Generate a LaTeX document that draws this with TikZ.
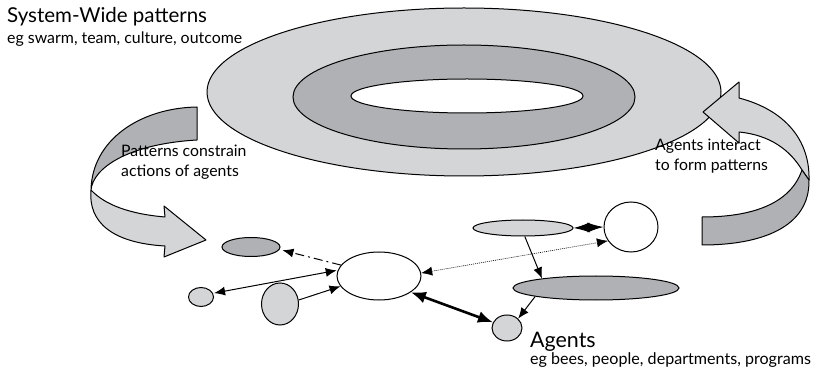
\documentclass[tikz,border=0pt]{standalone}
\usepackage{fontspec}
\setmainfont{Lato}
\usetikzlibrary{shapes.geometric,arrows.meta}
\definecolor{ringlight}{RGB}{212,213,215}
\definecolor{ringdark}{RGB}{176,177,180}
\begin{document}
\begin{tikzpicture}[x=1pt,y=-1pt,
  outline/.style={draw=black,line width=1pt},
  agent/.style={ellipse,outline,inner sep=0pt},
  link/.style={line width=1pt,-{Latex[length=11pt,width=9pt]}},
  biglink/.style={line width=1pt,{Latex[length=11pt,width=9pt]}-{Latex[length=11pt,width=9pt]}},
  heavylink/.style={line width=2.6pt,{Latex[length=15pt,width=12pt]}-{Latex[length=15pt,width=12pt]}},
  title/.style={anchor=base west,inner sep=0pt,font=\fontsize{20.5}{22}\selectfont},
  sub/.style={anchor=base west,inner sep=0pt,font=\fontsize{15.9}{18}\selectfont},
  note/.style={anchor=base west,inner sep=0pt,align=left,font=\fontsize{15.8}{20}\selectfont}]
\useasboundingbox (0,0) rectangle (817,374);

% concentric rings of the system-wide pattern
\draw[outline,fill=ringlight] (464,92) ellipse [x radius=257,y radius=84];
\draw[outline,fill=ringdark] (464,97) ellipse [x radius=171,y radius=52];
\draw[outline,fill=white] (467,96) ellipse [x radius=116,y radius=17];

% left ribbon arrow: dark band then light band with head
\draw[outline,fill=ringdark,line join=round]
  (197,107) .. controls (140,108) and (92,140) .. (91,190)
  .. controls (93,168) and (128,144) .. (197,140) -- cycle;
\draw[outline,fill=ringlight,line join=round]
  (91,190) .. controls (105,205) and (130,214) .. (165,217)
  -- (164,206) -- (206,240) -- (164,257) -- (165,246)
  .. controls (112,243) and (88,222) .. cycle;

% right ribbon arrow: light band with head then dark band
\draw[outline,fill=ringlight,line join=round]
  (739,98) .. controls (785,110) and (810,140) .. (809,180)
  -- (802,170) .. controls (790,150) and (770,135) .. (739,132)
  -- (739,143) -- (703,112) -- (739,82) -- cycle;
\draw[outline,fill=ringdark,line join=round]
  (802,170) .. controls (790,205) and (750,217) .. (702,217)
  -- (702,245) .. controls (760,245) and (810,228) .. (809,180) -- cycle;

% agents
\node[agent,fill=ringdark,minimum width=58pt,minimum height=19pt] (a1) at (251,247) {};
\node[agent,fill=ringlight,minimum width=25pt,minimum height=19pt] (a2) at (201,297) {};
\node[agent,fill=ringlight,minimum width=37pt,minimum height=42pt] (a3) at (280,304) {};
\node[agent,fill=white,minimum width=84pt,minimum height=48pt] (a4) at (379,276) {};
\node[agent,fill=ringlight,minimum width=30pt,minimum height=26pt] (a5) at (507,328) {};
\node[agent,fill=ringlight,minimum width=100pt,minimum height=16pt] (a6) at (523,228) {};
\node[agent,fill=white,minimum width=54pt,minimum height=50pt] (a7) at (631,227) {};
\node[agent,fill=ringdark,minimum width=166pt,minimum height=24pt] (a8) at (596,288) {};

% interactions
\draw[link,dash pattern=on 9pt off 4pt on 2pt off 4pt,shorten >=3pt] (a4.164) -- (a1.355);
\draw[biglink,shorten <=1pt,shorten >=1pt] (a2.17) -- (a4.172);
\draw[link] (a3.12) -- (a4.195);
\draw[biglink,densely dotted,line width=0.6pt] (a4.4) -- (a7.211);
\draw[line width=1pt,{Latex[length=16pt,width=10pt]}-{Latex[length=16pt,width=10pt]}] (a6.east) -- (a7.west);
\draw[link] (a6.282) -- (a8.170);
\draw[link] (a8.188) -- (a5.40);
\draw[heavylink] (a4.333) -- (a5.158);

% labels
\node[title] (t1) at (7,23) {System-Wide patterns};
\node[sub] (t2) at (7,44) {eg swarm, team, culture, outcome};
\node[note] (t3) at (121,177) {Patterns constrain\\actions of agents};
\node[note] (t4) at (655,171) {Agents interact\\to form patterns};
\node[title,font=\fontsize{21.4}{24}\selectfont] (t5) at (530,347) {Agents};
\node[sub,font=\fontsize{16.1}{18}\selectfont] (t6) at (530,364) {eg bees, people, departments, programs};
\end{tikzpicture}
\end{document}
